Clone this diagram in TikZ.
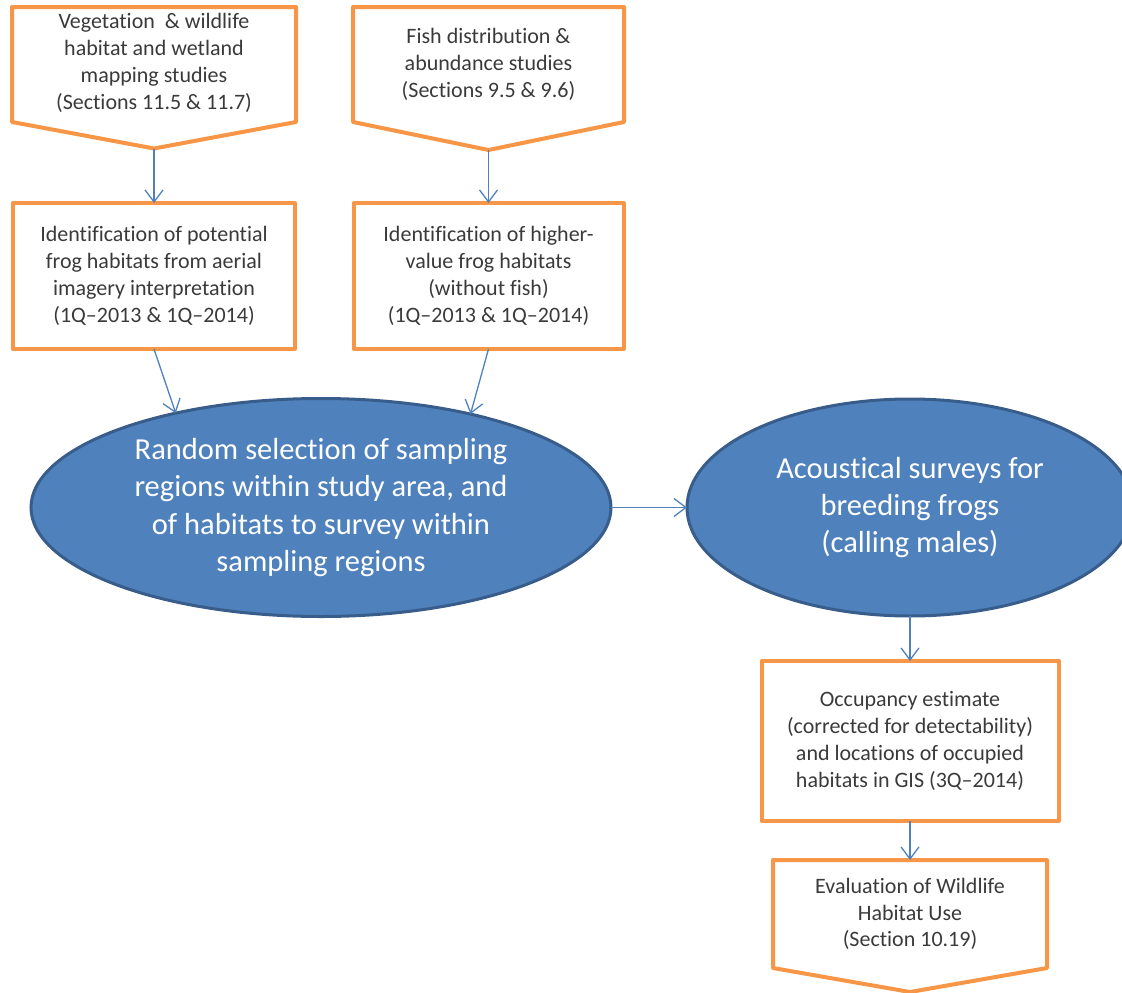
\documentclass[tikz,border=0pt]{standalone}
\usepackage{fontspec}
\setmainfont{Carlito}[Ligatures=NoCommon]
\usetikzlibrary{shapes.geometric,arrows.meta,calc}
\definecolor{boxorange}{HTML}{F79646}
\definecolor{ellfill}{HTML}{4F81BD}
\definecolor{elledge}{HTML}{385D8A}
\definecolor{arrblue}{HTML}{4F81BD}
\definecolor{txtgray}{HTML}{3A3A3A}
\tikzset{
  smalltxt/.style={font=\fontsize{22}{26.8}\selectfont, text=txtgray, align=center},
  orangebox/.style={rectangle, draw=boxorange, line width=4pt, line join=round,
    inner sep=0pt, outer sep=0pt, smalltxt},
  pentabox/.style={rectangle, draw=none, inner sep=0pt, outer sep=0pt, smalltxt},
  pentaline/.style={draw=boxorange, line width=4pt, line join=round},
  blueell/.style={ellipse, fill=ellfill, draw=elledge, line width=3pt, inner sep=0pt,
    outer sep=0pt, text=white, align=center, font=\fontsize{30.5}{37.2}\selectfont},
  conn/.style={draw=arrblue, line width=1.3pt, -{Straight Barb[length=12pt,width=18pt]}},
}
\begin{document}
\begin{tikzpicture}[x=1pt,y=-1pt]
\path[use as bounding box] (0,0) rectangle (1122,993);

% top pentagons
\node[pentabox, minimum width=284pt, minimum height=115pt] (p1) at (154,63)
  {Vegetation \ \& wildlife\\habitat and wetland\\mapping studies\\(Sections 11.5 \& 11.7)};
\coordinate (p1tip) at ($(p1.south)+(0,28)$);
\path[pentaline] (12,7) -- (296,7) -- (296,122) -- (p1tip) -- (12,122) -- cycle;

\node[pentabox, minimum width=271pt, minimum height=115pt] (p2) at (488.5,64.5)
  {Fish distribution \&\\abundance studies\\(Sections 9.5 \& 9.6)};
\coordinate (p2tip) at ($(p2.south)+(0,28)$);
\path[pentaline] (p2.north west) -- (p2.north east) -- (p2.south east) -- (p2tip) -- (p2.south west) -- cycle;

% rectangles
\node[orangebox, minimum width=282pt, minimum height=146pt] (r3) at (154,276)
  {Identification of potential\\frog habitats from aerial\\imagery interpretation\\(1Q–2013 \& 1Q–2014)};
\node[orangebox, minimum width=270pt, minimum height=146pt] (r4) at (488.5,276)
  {Identification of higher-\\value frog habitats\\(without fish)\\(1Q–2013 \& 1Q–2014)};

% ellipses
\node[blueell, minimum width=580pt, minimum height=218pt] (e1) at (321,507.5)
  {Random selection of sampling\\regions within study area, and\\of habitats to survey within\\sampling regions};
\node[blueell, minimum width=446pt, minimum height=217pt] (e2) at (910,507.5)
  {Acoustical surveys for\\breeding frogs\\(calling males)};

% occupancy box
\node[orangebox, minimum width=297pt, minimum height=160pt] (r5) at (910,741)
  {Occupancy estimate\\(corrected for detectability)\\and locations of occupied\\habitats in GIS (3Q–2014)};

% bottom pentagon
\node[pentabox, minimum width=274pt, minimum height=108pt] (p6) at (910,914)
  {Evaluation of Wildlife\\Habitat Use\\(Section 10.19)};
\coordinate (p6tip) at ($(p6.south)+(0,24)$);
\path[pentaline] (p6.north west) -- (p6.north east) -- (p6.south east) -- (p6tip) -- (p6.south west) -- cycle;

% connectors
\draw[conn] (p1tip) -- (r3.north);
\draw[conn] (p2tip) -- (r4.north);
\draw[conn] (r3.south) -- (e1.147.7);
\draw[conn] (r4.south) -- (e1.32.3);
\draw[conn] (e1.east) -- (e2.west);
\draw[conn] (e2.south) -- (r5.north);
\draw[conn] (r5.south) -- (p6.north);
\end{tikzpicture}
\end{document}
